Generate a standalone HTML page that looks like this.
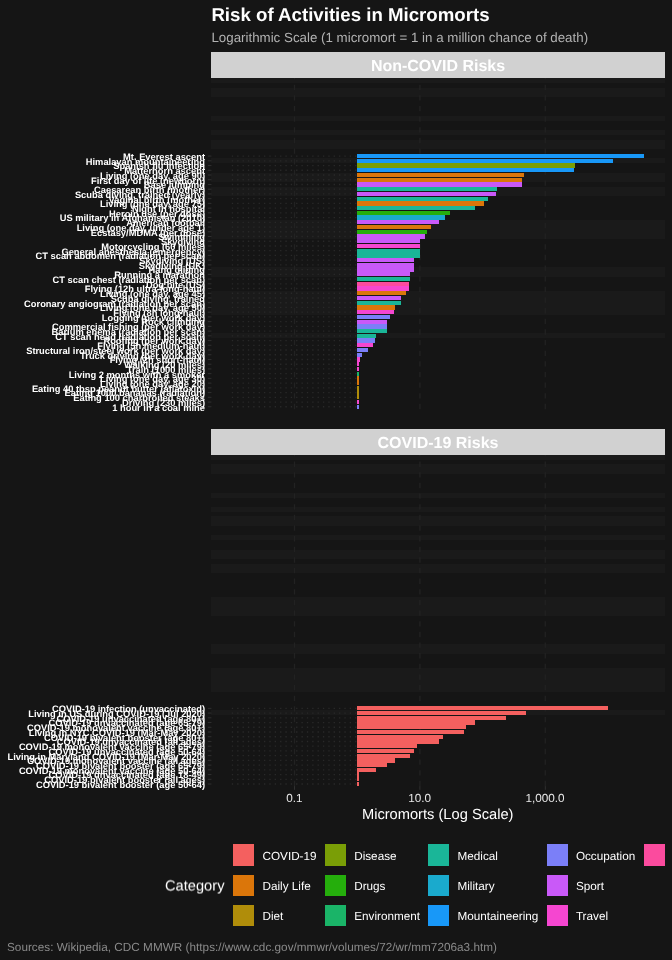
<!DOCTYPE html>
<html><head><meta charset="utf-8"><title>Risk of Activities in Micromorts</title>
<style>
html,body{margin:0;padding:0;background:#151515;}
body{width:672px;height:960px;position:relative;overflow:hidden;font-family:"Liberation Sans",sans-serif;}
.t{position:absolute;white-space:nowrap;text-rendering:geometricPrecision;}
svg{position:absolute;left:0;top:0;}
#txt{position:absolute;left:0;top:0;width:672px;height:960px;will-change:transform;}
</style></head><body>
<svg width="672" height="960" viewBox="0 0 672 960">
<rect x="211.25" y="78.05" width="453.55" height="4.730" fill="#1a1a1a" shape-rendering="crispEdges"/>
<rect x="211.25" y="87.51" width="453.55" height="4.730" fill="#1a1a1a" shape-rendering="crispEdges"/>
<rect x="211.25" y="92.24" width="453.55" height="4.730" fill="#1a1a1a" shape-rendering="crispEdges"/>
<rect x="211.25" y="115.89" width="453.55" height="4.730" fill="#1a1a1a" shape-rendering="crispEdges"/>
<rect x="211.25" y="130.08" width="453.55" height="4.730" fill="#1a1a1a" shape-rendering="crispEdges"/>
<rect x="211.25" y="139.54" width="453.55" height="4.730" fill="#1a1a1a" shape-rendering="crispEdges"/>
<rect x="211.25" y="144.27" width="453.55" height="4.730" fill="#1a1a1a" shape-rendering="crispEdges"/>
<rect x="211.25" y="158.46" width="453.55" height="4.730" fill="#1a1a1a" shape-rendering="crispEdges"/>
<rect x="211.25" y="172.65" width="453.55" height="4.730" fill="#1a1a1a" shape-rendering="crispEdges"/>
<rect x="211.25" y="177.38" width="453.55" height="4.730" fill="#1a1a1a" shape-rendering="crispEdges"/>
<rect x="211.25" y="186.84" width="453.55" height="4.730" fill="#1a1a1a" shape-rendering="crispEdges"/>
<rect x="211.25" y="191.57" width="453.55" height="4.730" fill="#1a1a1a" shape-rendering="crispEdges"/>
<rect x="211.25" y="219.95" width="453.55" height="4.730" fill="#1a1a1a" shape-rendering="crispEdges"/>
<rect x="211.25" y="224.68" width="453.55" height="4.730" fill="#1a1a1a" shape-rendering="crispEdges"/>
<rect x="211.25" y="229.41" width="453.55" height="4.730" fill="#1a1a1a" shape-rendering="crispEdges"/>
<rect x="211.25" y="234.14" width="453.55" height="4.730" fill="#1a1a1a" shape-rendering="crispEdges"/>
<rect x="211.25" y="267.25" width="453.55" height="4.730" fill="#1a1a1a" shape-rendering="crispEdges"/>
<rect x="211.25" y="271.98" width="453.55" height="4.730" fill="#1a1a1a" shape-rendering="crispEdges"/>
<rect x="211.25" y="290.90" width="453.55" height="4.730" fill="#1a1a1a" shape-rendering="crispEdges"/>
<rect x="211.25" y="295.63" width="453.55" height="4.730" fill="#1a1a1a" shape-rendering="crispEdges"/>
<rect x="211.25" y="300.36" width="453.55" height="4.730" fill="#1a1a1a" shape-rendering="crispEdges"/>
<rect x="211.25" y="305.09" width="453.55" height="4.730" fill="#1a1a1a" shape-rendering="crispEdges"/>
<rect x="211.25" y="309.82" width="453.55" height="4.730" fill="#1a1a1a" shape-rendering="crispEdges"/>
<rect x="211.25" y="333.47" width="453.55" height="4.730" fill="#1a1a1a" shape-rendering="crispEdges"/>
<line x1="294.50" x2="294.50" y1="409.15" y2="78.05" stroke="#222222" stroke-width="1.33" stroke-dasharray="5.32 5.32"/>
<line x1="419.90" x2="419.90" y1="409.15" y2="78.05" stroke="#222222" stroke-width="1.33" stroke-dasharray="5.32 5.32"/>
<line x1="545.30" x2="545.30" y1="409.15" y2="78.05" stroke="#222222" stroke-width="1.33" stroke-dasharray="5.32 5.32"/>
<line x1="207.85" x2="211.45" y1="156.09" y2="156.09" stroke="#303030" stroke-width="1"/>
<line x1="231.80" x2="357.20" y1="156.09" y2="156.09" stroke="#292929" stroke-width="1.33" stroke-dasharray="1.34 4.02"/>
<rect x="357.20" y="153.96" width="287.10" height="4.26" fill="#1898F8" shape-rendering="crispEdges"/>
<line x1="207.85" x2="211.45" y1="160.82" y2="160.82" stroke="#303030" stroke-width="1"/>
<line x1="231.80" x2="357.20" y1="160.82" y2="160.82" stroke="#292929" stroke-width="1.33" stroke-dasharray="1.34 4.02"/>
<rect x="357.20" y="158.69" width="255.76" height="4.26" fill="#1898F8" shape-rendering="crispEdges"/>
<line x1="207.85" x2="211.45" y1="165.55" y2="165.55" stroke="#303030" stroke-width="1"/>
<line x1="231.80" x2="357.20" y1="165.55" y2="165.55" stroke="#292929" stroke-width="1.33" stroke-dasharray="1.34 4.02"/>
<rect x="357.20" y="163.42" width="218.02" height="4.26" fill="#7A9E06" shape-rendering="crispEdges"/>
<line x1="207.85" x2="211.45" y1="170.28" y2="170.28" stroke="#303030" stroke-width="1"/>
<line x1="231.80" x2="357.20" y1="170.28" y2="170.28" stroke="#292929" stroke-width="1.33" stroke-dasharray="1.34 4.02"/>
<rect x="357.20" y="168.15" width="216.52" height="4.26" fill="#1898F8" shape-rendering="crispEdges"/>
<line x1="207.85" x2="211.45" y1="175.01" y2="175.01" stroke="#303030" stroke-width="1"/>
<line x1="231.80" x2="357.20" y1="175.01" y2="175.01" stroke="#292929" stroke-width="1.33" stroke-dasharray="1.34 4.02"/>
<rect x="357.20" y="172.88" width="167.13" height="4.26" fill="#DB760A" shape-rendering="crispEdges"/>
<line x1="207.85" x2="211.45" y1="179.74" y2="179.74" stroke="#303030" stroke-width="1"/>
<line x1="231.80" x2="357.20" y1="179.74" y2="179.74" stroke="#292929" stroke-width="1.33" stroke-dasharray="1.34 4.02"/>
<rect x="357.20" y="177.61" width="165.12" height="4.26" fill="#DB760A" shape-rendering="crispEdges"/>
<line x1="207.85" x2="211.45" y1="184.47" y2="184.47" stroke="#303030" stroke-width="1"/>
<line x1="231.80" x2="357.20" y1="184.47" y2="184.47" stroke="#292929" stroke-width="1.33" stroke-dasharray="1.34 4.02"/>
<rect x="357.20" y="182.34" width="165.12" height="4.26" fill="#C959F8" shape-rendering="crispEdges"/>
<line x1="207.85" x2="211.45" y1="189.20" y2="189.20" stroke="#303030" stroke-width="1"/>
<line x1="231.80" x2="357.20" y1="189.20" y2="189.20" stroke="#292929" stroke-width="1.33" stroke-dasharray="1.34 4.02"/>
<rect x="357.20" y="187.07" width="139.85" height="4.26" fill="#1AB698" shape-rendering="crispEdges"/>
<line x1="207.85" x2="211.45" y1="193.93" y2="193.93" stroke="#303030" stroke-width="1"/>
<line x1="231.80" x2="357.20" y1="193.93" y2="193.93" stroke="#292929" stroke-width="1.33" stroke-dasharray="1.34 4.02"/>
<rect x="357.20" y="191.80" width="138.87" height="4.26" fill="#C959F8" shape-rendering="crispEdges"/>
<line x1="207.85" x2="211.45" y1="198.66" y2="198.66" stroke="#303030" stroke-width="1"/>
<line x1="231.80" x2="357.20" y1="198.66" y2="198.66" stroke="#292929" stroke-width="1.33" stroke-dasharray="1.34 4.02"/>
<rect x="357.20" y="196.53" width="130.36" height="4.26" fill="#1AB698" shape-rendering="crispEdges"/>
<line x1="207.85" x2="211.45" y1="203.39" y2="203.39" stroke="#303030" stroke-width="1"/>
<line x1="231.80" x2="357.20" y1="203.39" y2="203.39" stroke="#292929" stroke-width="1.33" stroke-dasharray="1.34 4.02"/>
<rect x="357.20" y="201.26" width="126.73" height="4.26" fill="#DB760A" shape-rendering="crispEdges"/>
<line x1="207.85" x2="211.45" y1="208.12" y2="208.12" stroke="#303030" stroke-width="1"/>
<line x1="231.80" x2="357.20" y1="208.12" y2="208.12" stroke="#292929" stroke-width="1.33" stroke-dasharray="1.34 4.02"/>
<rect x="357.20" y="205.99" width="117.57" height="4.26" fill="#1AB698" shape-rendering="crispEdges"/>
<line x1="207.85" x2="211.45" y1="212.85" y2="212.85" stroke="#303030" stroke-width="1"/>
<line x1="231.80" x2="357.20" y1="212.85" y2="212.85" stroke="#292929" stroke-width="1.33" stroke-dasharray="1.34 4.02"/>
<rect x="357.20" y="210.72" width="92.62" height="4.26" fill="#25AE0C" shape-rendering="crispEdges"/>
<line x1="207.85" x2="211.45" y1="217.58" y2="217.58" stroke="#303030" stroke-width="1"/>
<line x1="231.80" x2="357.20" y1="217.58" y2="217.58" stroke="#292929" stroke-width="1.33" stroke-dasharray="1.34 4.02"/>
<rect x="357.20" y="215.45" width="87.65" height="4.26" fill="#1AAACD" shape-rendering="crispEdges"/>
<line x1="207.85" x2="211.45" y1="222.31" y2="222.31" stroke="#303030" stroke-width="1"/>
<line x1="231.80" x2="357.20" y1="222.31" y2="222.31" stroke="#292929" stroke-width="1.33" stroke-dasharray="1.34 4.02"/>
<rect x="357.20" y="220.18" width="81.57" height="4.26" fill="#C959F8" shape-rendering="crispEdges"/>
<line x1="207.85" x2="211.45" y1="227.04" y2="227.04" stroke="#303030" stroke-width="1"/>
<line x1="231.80" x2="357.20" y1="227.04" y2="227.04" stroke="#292929" stroke-width="1.33" stroke-dasharray="1.34 4.02"/>
<rect x="357.20" y="224.91" width="73.74" height="4.26" fill="#DB760A" shape-rendering="crispEdges"/>
<line x1="207.85" x2="211.45" y1="231.77" y2="231.77" stroke="#303030" stroke-width="1"/>
<line x1="231.80" x2="357.20" y1="231.77" y2="231.77" stroke="#292929" stroke-width="1.33" stroke-dasharray="1.34 4.02"/>
<rect x="357.20" y="229.64" width="69.84" height="4.26" fill="#25AE0C" shape-rendering="crispEdges"/>
<line x1="207.85" x2="211.45" y1="236.50" y2="236.50" stroke="#303030" stroke-width="1"/>
<line x1="231.80" x2="357.20" y1="236.50" y2="236.50" stroke="#292929" stroke-width="1.33" stroke-dasharray="1.34 4.02"/>
<rect x="357.20" y="234.37" width="67.66" height="4.26" fill="#C959F8" shape-rendering="crispEdges"/>
<line x1="207.85" x2="211.45" y1="241.23" y2="241.23" stroke="#303030" stroke-width="1"/>
<line x1="231.80" x2="357.20" y1="241.23" y2="241.23" stroke="#292929" stroke-width="1.33" stroke-dasharray="1.34 4.02"/>
<rect x="357.20" y="239.10" width="62.70" height="4.26" fill="#C959F8" shape-rendering="crispEdges"/>
<line x1="207.85" x2="211.45" y1="245.96" y2="245.96" stroke="#303030" stroke-width="1"/>
<line x1="231.80" x2="357.20" y1="245.96" y2="245.96" stroke="#292929" stroke-width="1.33" stroke-dasharray="1.34 4.02"/>
<rect x="357.20" y="243.83" width="62.70" height="4.26" fill="#F546D0" shape-rendering="crispEdges"/>
<line x1="207.85" x2="211.45" y1="250.69" y2="250.69" stroke="#303030" stroke-width="1"/>
<line x1="231.80" x2="357.20" y1="250.69" y2="250.69" stroke="#292929" stroke-width="1.33" stroke-dasharray="1.34 4.02"/>
<rect x="357.20" y="248.56" width="62.70" height="4.26" fill="#1AB698" shape-rendering="crispEdges"/>
<line x1="207.85" x2="211.45" y1="255.42" y2="255.42" stroke="#303030" stroke-width="1"/>
<line x1="231.80" x2="357.20" y1="255.42" y2="255.42" stroke="#292929" stroke-width="1.33" stroke-dasharray="1.34 4.02"/>
<rect x="357.20" y="253.29" width="62.70" height="4.26" fill="#1AB698" shape-rendering="crispEdges"/>
<line x1="207.85" x2="211.45" y1="260.15" y2="260.15" stroke="#303030" stroke-width="1"/>
<line x1="231.80" x2="357.20" y1="260.15" y2="260.15" stroke="#292929" stroke-width="1.33" stroke-dasharray="1.34 4.02"/>
<rect x="357.20" y="258.02" width="56.62" height="4.26" fill="#C959F8" shape-rendering="crispEdges"/>
<line x1="207.85" x2="211.45" y1="264.88" y2="264.88" stroke="#303030" stroke-width="1"/>
<line x1="231.80" x2="357.20" y1="264.88" y2="264.88" stroke="#292929" stroke-width="1.33" stroke-dasharray="1.34 4.02"/>
<rect x="357.20" y="262.75" width="56.62" height="4.26" fill="#C959F8" shape-rendering="crispEdges"/>
<line x1="207.85" x2="211.45" y1="269.61" y2="269.61" stroke="#303030" stroke-width="1"/>
<line x1="231.80" x2="357.20" y1="269.61" y2="269.61" stroke="#292929" stroke-width="1.33" stroke-dasharray="1.34 4.02"/>
<rect x="357.20" y="267.48" width="56.62" height="4.26" fill="#C959F8" shape-rendering="crispEdges"/>
<line x1="207.85" x2="211.45" y1="274.34" y2="274.34" stroke="#303030" stroke-width="1"/>
<line x1="231.80" x2="357.20" y1="274.34" y2="274.34" stroke="#292929" stroke-width="1.33" stroke-dasharray="1.34 4.02"/>
<rect x="357.20" y="272.21" width="52.99" height="4.26" fill="#C959F8" shape-rendering="crispEdges"/>
<line x1="207.85" x2="211.45" y1="279.07" y2="279.07" stroke="#303030" stroke-width="1"/>
<line x1="231.80" x2="357.20" y1="279.07" y2="279.07" stroke="#292929" stroke-width="1.33" stroke-dasharray="1.34 4.02"/>
<rect x="357.20" y="276.94" width="52.99" height="4.26" fill="#1AB698" shape-rendering="crispEdges"/>
<line x1="207.85" x2="211.45" y1="283.80" y2="283.80" stroke="#303030" stroke-width="1"/>
<line x1="231.80" x2="357.20" y1="283.80" y2="283.80" stroke="#292929" stroke-width="1.33" stroke-dasharray="1.34 4.02"/>
<rect x="357.20" y="281.67" width="51.79" height="4.26" fill="#FB4B9E" shape-rendering="crispEdges"/>
<line x1="207.85" x2="211.45" y1="288.53" y2="288.53" stroke="#303030" stroke-width="1"/>
<line x1="231.80" x2="357.20" y1="288.53" y2="288.53" stroke="#292929" stroke-width="1.33" stroke-dasharray="1.34 4.02"/>
<rect x="357.20" y="286.40" width="51.79" height="4.26" fill="#F546D0" shape-rendering="crispEdges"/>
<line x1="207.85" x2="211.45" y1="293.26" y2="293.26" stroke="#303030" stroke-width="1"/>
<line x1="231.80" x2="357.20" y1="293.26" y2="293.26" stroke="#292929" stroke-width="1.33" stroke-dasharray="1.34 4.02"/>
<rect x="357.20" y="291.13" width="48.79" height="4.26" fill="#DB760A" shape-rendering="crispEdges"/>
<line x1="207.85" x2="211.45" y1="297.99" y2="297.99" stroke="#303030" stroke-width="1"/>
<line x1="231.80" x2="357.20" y1="297.99" y2="297.99" stroke="#292929" stroke-width="1.33" stroke-dasharray="1.34 4.02"/>
<rect x="357.20" y="295.86" width="43.83" height="4.26" fill="#C959F8" shape-rendering="crispEdges"/>
<line x1="207.85" x2="211.45" y1="302.72" y2="302.72" stroke="#303030" stroke-width="1"/>
<line x1="231.80" x2="357.20" y1="302.72" y2="302.72" stroke="#292929" stroke-width="1.33" stroke-dasharray="1.34 4.02"/>
<rect x="357.20" y="300.59" width="43.83" height="4.26" fill="#1AB698" shape-rendering="crispEdges"/>
<line x1="207.85" x2="211.45" y1="307.45" y2="307.45" stroke="#303030" stroke-width="1"/>
<line x1="231.80" x2="357.20" y1="307.45" y2="307.45" stroke="#292929" stroke-width="1.33" stroke-dasharray="1.34 4.02"/>
<rect x="357.20" y="305.32" width="37.75" height="4.26" fill="#DB760A" shape-rendering="crispEdges"/>
<line x1="207.85" x2="211.45" y1="312.18" y2="312.18" stroke="#303030" stroke-width="1"/>
<line x1="231.80" x2="357.20" y1="312.18" y2="312.18" stroke="#292929" stroke-width="1.33" stroke-dasharray="1.34 4.02"/>
<rect x="357.20" y="310.05" width="36.35" height="4.26" fill="#F546D0" shape-rendering="crispEdges"/>
<line x1="207.85" x2="211.45" y1="316.91" y2="316.91" stroke="#303030" stroke-width="1"/>
<line x1="231.80" x2="357.20" y1="316.91" y2="316.91" stroke="#292929" stroke-width="1.33" stroke-dasharray="1.34 4.02"/>
<rect x="357.20" y="314.78" width="32.92" height="4.26" fill="#7B7FF8" shape-rendering="crispEdges"/>
<line x1="207.85" x2="211.45" y1="321.64" y2="321.64" stroke="#303030" stroke-width="1"/>
<line x1="231.80" x2="357.20" y1="321.64" y2="321.64" stroke="#292929" stroke-width="1.33" stroke-dasharray="1.34 4.02"/>
<rect x="357.20" y="319.51" width="29.92" height="4.26" fill="#C959F8" shape-rendering="crispEdges"/>
<line x1="207.85" x2="211.45" y1="326.37" y2="326.37" stroke="#303030" stroke-width="1"/>
<line x1="231.80" x2="357.20" y1="326.37" y2="326.37" stroke="#292929" stroke-width="1.33" stroke-dasharray="1.34 4.02"/>
<rect x="357.20" y="324.24" width="29.92" height="4.26" fill="#7B7FF8" shape-rendering="crispEdges"/>
<line x1="207.85" x2="211.45" y1="331.10" y2="331.10" stroke="#303030" stroke-width="1"/>
<line x1="231.80" x2="357.20" y1="331.10" y2="331.10" stroke="#292929" stroke-width="1.33" stroke-dasharray="1.34 4.02"/>
<rect x="357.20" y="328.97" width="29.92" height="4.26" fill="#1AB698" shape-rendering="crispEdges"/>
<line x1="207.85" x2="211.45" y1="335.83" y2="335.83" stroke="#303030" stroke-width="1"/>
<line x1="231.80" x2="357.20" y1="335.83" y2="335.83" stroke="#292929" stroke-width="1.33" stroke-dasharray="1.34 4.02"/>
<rect x="357.20" y="333.70" width="18.87" height="4.26" fill="#1AB698" shape-rendering="crispEdges"/>
<line x1="207.85" x2="211.45" y1="340.56" y2="340.56" stroke="#303030" stroke-width="1"/>
<line x1="231.80" x2="357.20" y1="340.56" y2="340.56" stroke="#292929" stroke-width="1.33" stroke-dasharray="1.34 4.02"/>
<rect x="357.20" y="338.43" width="17.90" height="4.26" fill="#7B7FF8" shape-rendering="crispEdges"/>
<line x1="207.85" x2="211.45" y1="345.29" y2="345.29" stroke="#303030" stroke-width="1"/>
<line x1="231.80" x2="357.20" y1="345.29" y2="345.29" stroke="#292929" stroke-width="1.33" stroke-dasharray="1.34 4.02"/>
<rect x="357.20" y="343.16" width="16.01" height="4.26" fill="#F546D0" shape-rendering="crispEdges"/>
<line x1="207.85" x2="211.45" y1="350.02" y2="350.02" stroke="#303030" stroke-width="1"/>
<line x1="231.80" x2="357.20" y1="350.02" y2="350.02" stroke="#292929" stroke-width="1.33" stroke-dasharray="1.34 4.02"/>
<rect x="357.20" y="347.89" width="11.04" height="4.26" fill="#7B7FF8" shape-rendering="crispEdges"/>
<line x1="207.85" x2="211.45" y1="354.75" y2="354.75" stroke="#303030" stroke-width="1"/>
<line x1="231.80" x2="357.20" y1="354.75" y2="354.75" stroke="#292929" stroke-width="1.33" stroke-dasharray="1.34 4.02"/>
<rect x="357.20" y="352.62" width="4.96" height="4.26" fill="#7B7FF8" shape-rendering="crispEdges"/>
<line x1="207.85" x2="211.45" y1="359.48" y2="359.48" stroke="#303030" stroke-width="1"/>
<line x1="231.80" x2="357.20" y1="359.48" y2="359.48" stroke="#292929" stroke-width="1.33" stroke-dasharray="1.34 4.02"/>
<rect x="357.20" y="357.35" width="2.60" height="4.26" fill="#F546D0" shape-rendering="crispEdges"/>
<line x1="207.85" x2="211.45" y1="364.21" y2="364.21" stroke="#303030" stroke-width="1"/>
<line x1="231.80" x2="357.20" y1="364.21" y2="364.21" stroke="#292929" stroke-width="1.33" stroke-dasharray="1.34 4.02"/>
<rect x="357.20" y="362.08" width="2.00" height="4.26" fill="#F546D0" shape-rendering="crispEdges"/>
<line x1="207.85" x2="211.45" y1="368.94" y2="368.94" stroke="#303030" stroke-width="1"/>
<line x1="231.80" x2="357.20" y1="368.94" y2="368.94" stroke="#292929" stroke-width="1.33" stroke-dasharray="1.34 4.02"/>
<rect x="357.20" y="366.81" width="2.00" height="4.26" fill="#F546D0" shape-rendering="crispEdges"/>
<line x1="207.85" x2="211.45" y1="373.67" y2="373.67" stroke="#303030" stroke-width="1"/>
<line x1="231.80" x2="357.20" y1="373.67" y2="373.67" stroke="#292929" stroke-width="1.33" stroke-dasharray="1.34 4.02"/>
<rect x="357.20" y="371.54" width="2.00" height="4.26" fill="#1AB468" shape-rendering="crispEdges"/>
<line x1="207.85" x2="211.45" y1="378.40" y2="378.40" stroke="#303030" stroke-width="1"/>
<line x1="231.80" x2="357.20" y1="378.40" y2="378.40" stroke="#292929" stroke-width="1.33" stroke-dasharray="1.34 4.02"/>
<rect x="357.20" y="376.27" width="2.00" height="4.26" fill="#DB760A" shape-rendering="crispEdges"/>
<line x1="207.85" x2="211.45" y1="383.13" y2="383.13" stroke="#303030" stroke-width="1"/>
<line x1="231.80" x2="357.20" y1="383.13" y2="383.13" stroke="#292929" stroke-width="1.33" stroke-dasharray="1.34 4.02"/>
<rect x="357.20" y="381.00" width="2.00" height="4.26" fill="#DB760A" shape-rendering="crispEdges"/>
<line x1="207.85" x2="211.45" y1="387.86" y2="387.86" stroke="#303030" stroke-width="1"/>
<line x1="231.80" x2="357.20" y1="387.86" y2="387.86" stroke="#292929" stroke-width="1.33" stroke-dasharray="1.34 4.02"/>
<rect x="357.20" y="385.73" width="2.00" height="4.26" fill="#B08D0A" shape-rendering="crispEdges"/>
<line x1="207.85" x2="211.45" y1="392.59" y2="392.59" stroke="#303030" stroke-width="1"/>
<line x1="231.80" x2="357.20" y1="392.59" y2="392.59" stroke="#292929" stroke-width="1.33" stroke-dasharray="1.34 4.02"/>
<rect x="357.20" y="390.46" width="2.00" height="4.26" fill="#B08D0A" shape-rendering="crispEdges"/>
<line x1="207.85" x2="211.45" y1="397.32" y2="397.32" stroke="#303030" stroke-width="1"/>
<line x1="231.80" x2="357.20" y1="397.32" y2="397.32" stroke="#292929" stroke-width="1.33" stroke-dasharray="1.34 4.02"/>
<rect x="357.20" y="395.19" width="2.00" height="4.26" fill="#B08D0A" shape-rendering="crispEdges"/>
<line x1="207.85" x2="211.45" y1="402.05" y2="402.05" stroke="#303030" stroke-width="1"/>
<line x1="231.80" x2="357.20" y1="402.05" y2="402.05" stroke="#292929" stroke-width="1.33" stroke-dasharray="1.34 4.02"/>
<rect x="357.20" y="399.92" width="2.00" height="4.26" fill="#F546D0" shape-rendering="crispEdges"/>
<line x1="207.85" x2="211.45" y1="406.78" y2="406.78" stroke="#303030" stroke-width="1"/>
<line x1="231.80" x2="357.20" y1="406.78" y2="406.78" stroke="#292929" stroke-width="1.33" stroke-dasharray="1.34 4.02"/>
<rect x="357.20" y="404.65" width="2.00" height="4.26" fill="#7B7FF8" shape-rendering="crispEdges"/>
<rect x="211.25" y="455.00" width="453.55" height="4.730" fill="#1a1a1a" shape-rendering="crispEdges"/>
<rect x="211.25" y="464.46" width="453.55" height="4.730" fill="#1a1a1a" shape-rendering="crispEdges"/>
<rect x="211.25" y="469.19" width="453.55" height="4.730" fill="#1a1a1a" shape-rendering="crispEdges"/>
<rect x="211.25" y="492.84" width="453.55" height="4.730" fill="#1a1a1a" shape-rendering="crispEdges"/>
<rect x="211.25" y="507.03" width="453.55" height="4.730" fill="#1a1a1a" shape-rendering="crispEdges"/>
<rect x="211.25" y="516.49" width="453.55" height="4.730" fill="#1a1a1a" shape-rendering="crispEdges"/>
<rect x="211.25" y="521.22" width="453.55" height="4.730" fill="#1a1a1a" shape-rendering="crispEdges"/>
<rect x="211.25" y="535.41" width="453.55" height="4.730" fill="#1a1a1a" shape-rendering="crispEdges"/>
<rect x="211.25" y="549.60" width="453.55" height="4.730" fill="#1a1a1a" shape-rendering="crispEdges"/>
<rect x="211.25" y="554.33" width="453.55" height="4.730" fill="#1a1a1a" shape-rendering="crispEdges"/>
<rect x="211.25" y="563.79" width="453.55" height="4.730" fill="#1a1a1a" shape-rendering="crispEdges"/>
<rect x="211.25" y="568.52" width="453.55" height="4.730" fill="#1a1a1a" shape-rendering="crispEdges"/>
<rect x="211.25" y="596.90" width="453.55" height="4.730" fill="#1a1a1a" shape-rendering="crispEdges"/>
<rect x="211.25" y="601.63" width="453.55" height="4.730" fill="#1a1a1a" shape-rendering="crispEdges"/>
<rect x="211.25" y="606.36" width="453.55" height="4.730" fill="#1a1a1a" shape-rendering="crispEdges"/>
<rect x="211.25" y="611.09" width="453.55" height="4.730" fill="#1a1a1a" shape-rendering="crispEdges"/>
<rect x="211.25" y="644.20" width="453.55" height="4.730" fill="#1a1a1a" shape-rendering="crispEdges"/>
<rect x="211.25" y="648.93" width="453.55" height="4.730" fill="#1a1a1a" shape-rendering="crispEdges"/>
<rect x="211.25" y="667.85" width="453.55" height="4.730" fill="#1a1a1a" shape-rendering="crispEdges"/>
<rect x="211.25" y="672.58" width="453.55" height="4.730" fill="#1a1a1a" shape-rendering="crispEdges"/>
<rect x="211.25" y="677.31" width="453.55" height="4.730" fill="#1a1a1a" shape-rendering="crispEdges"/>
<rect x="211.25" y="682.04" width="453.55" height="4.730" fill="#1a1a1a" shape-rendering="crispEdges"/>
<rect x="211.25" y="686.77" width="453.55" height="4.730" fill="#1a1a1a" shape-rendering="crispEdges"/>
<rect x="211.25" y="710.42" width="453.55" height="4.730" fill="#1a1a1a" shape-rendering="crispEdges"/>
<line x1="294.50" x2="294.50" y1="786.10" y2="455.00" stroke="#222222" stroke-width="1.33" stroke-dasharray="5.32 5.32"/>
<line x1="419.90" x2="419.90" y1="786.10" y2="455.00" stroke="#222222" stroke-width="1.33" stroke-dasharray="5.32 5.32"/>
<line x1="545.30" x2="545.30" y1="786.10" y2="455.00" stroke="#222222" stroke-width="1.33" stroke-dasharray="5.32 5.32"/>
<line x1="207.85" x2="211.45" y1="708.35" y2="708.35" stroke="#303030" stroke-width="1"/>
<line x1="231.80" x2="357.20" y1="708.35" y2="708.35" stroke="#292929" stroke-width="1.33" stroke-dasharray="1.34 4.02"/>
<rect x="357.20" y="706.23" width="250.80" height="4.26" fill="#F4605F" shape-rendering="crispEdges"/>
<line x1="207.85" x2="211.45" y1="713.08" y2="713.08" stroke="#303030" stroke-width="1"/>
<line x1="231.80" x2="357.20" y1="713.08" y2="713.08" stroke="#292929" stroke-width="1.33" stroke-dasharray="1.34 4.02"/>
<rect x="357.20" y="710.96" width="169.23" height="4.26" fill="#F4605F" shape-rendering="crispEdges"/>
<line x1="207.85" x2="211.45" y1="717.81" y2="717.81" stroke="#303030" stroke-width="1"/>
<line x1="231.80" x2="357.20" y1="717.81" y2="717.81" stroke="#292929" stroke-width="1.33" stroke-dasharray="1.34 4.02"/>
<rect x="357.20" y="715.69" width="149.24" height="4.26" fill="#F4605F" shape-rendering="crispEdges"/>
<line x1="207.85" x2="211.45" y1="722.54" y2="722.54" stroke="#303030" stroke-width="1"/>
<line x1="231.80" x2="357.20" y1="722.54" y2="722.54" stroke="#292929" stroke-width="1.33" stroke-dasharray="1.34 4.02"/>
<rect x="357.20" y="720.42" width="117.57" height="4.26" fill="#F4605F" shape-rendering="crispEdges"/>
<line x1="207.85" x2="211.45" y1="727.27" y2="727.27" stroke="#303030" stroke-width="1"/>
<line x1="231.80" x2="357.20" y1="727.27" y2="727.27" stroke="#292929" stroke-width="1.33" stroke-dasharray="1.34 4.02"/>
<rect x="357.20" y="725.15" width="108.62" height="4.26" fill="#F4605F" shape-rendering="crispEdges"/>
<line x1="207.85" x2="211.45" y1="732.00" y2="732.00" stroke="#303030" stroke-width="1"/>
<line x1="231.80" x2="357.20" y1="732.00" y2="732.00" stroke="#292929" stroke-width="1.33" stroke-dasharray="1.34 4.02"/>
<rect x="357.20" y="729.88" width="106.53" height="4.26" fill="#F4605F" shape-rendering="crispEdges"/>
<line x1="207.85" x2="211.45" y1="736.73" y2="736.73" stroke="#303030" stroke-width="1"/>
<line x1="231.80" x2="357.20" y1="736.73" y2="736.73" stroke="#292929" stroke-width="1.33" stroke-dasharray="1.34 4.02"/>
<rect x="357.20" y="734.61" width="85.38" height="4.26" fill="#F4605F" shape-rendering="crispEdges"/>
<line x1="207.85" x2="211.45" y1="741.46" y2="741.46" stroke="#303030" stroke-width="1"/>
<line x1="231.80" x2="357.20" y1="741.46" y2="741.46" stroke="#292929" stroke-width="1.33" stroke-dasharray="1.34 4.02"/>
<rect x="357.20" y="739.34" width="81.57" height="4.26" fill="#F4605F" shape-rendering="crispEdges"/>
<line x1="207.85" x2="211.45" y1="746.19" y2="746.19" stroke="#303030" stroke-width="1"/>
<line x1="231.80" x2="357.20" y1="746.19" y2="746.19" stroke="#292929" stroke-width="1.33" stroke-dasharray="1.34 4.02"/>
<rect x="357.20" y="744.07" width="59.83" height="4.26" fill="#F4605F" shape-rendering="crispEdges"/>
<line x1="207.85" x2="211.45" y1="750.92" y2="750.92" stroke="#303030" stroke-width="1"/>
<line x1="231.80" x2="357.20" y1="750.92" y2="750.92" stroke="#292929" stroke-width="1.33" stroke-dasharray="1.34 4.02"/>
<rect x="357.20" y="748.80" width="56.62" height="4.26" fill="#F4605F" shape-rendering="crispEdges"/>
<line x1="207.85" x2="211.45" y1="755.65" y2="755.65" stroke="#303030" stroke-width="1"/>
<line x1="231.80" x2="357.20" y1="755.65" y2="755.65" stroke="#292929" stroke-width="1.33" stroke-dasharray="1.34 4.02"/>
<rect x="357.20" y="753.53" width="52.99" height="4.26" fill="#F4605F" shape-rendering="crispEdges"/>
<line x1="207.85" x2="211.45" y1="760.38" y2="760.38" stroke="#303030" stroke-width="1"/>
<line x1="231.80" x2="357.20" y1="760.38" y2="760.38" stroke="#292929" stroke-width="1.33" stroke-dasharray="1.34 4.02"/>
<rect x="357.20" y="758.26" width="37.75" height="4.26" fill="#F4605F" shape-rendering="crispEdges"/>
<line x1="207.85" x2="211.45" y1="765.11" y2="765.11" stroke="#303030" stroke-width="1"/>
<line x1="231.80" x2="357.20" y1="765.11" y2="765.11" stroke="#292929" stroke-width="1.33" stroke-dasharray="1.34 4.02"/>
<rect x="357.20" y="762.99" width="29.92" height="4.26" fill="#F4605F" shape-rendering="crispEdges"/>
<line x1="207.85" x2="211.45" y1="769.84" y2="769.84" stroke="#303030" stroke-width="1"/>
<line x1="231.80" x2="357.20" y1="769.84" y2="769.84" stroke="#292929" stroke-width="1.33" stroke-dasharray="1.34 4.02"/>
<rect x="357.20" y="767.72" width="18.87" height="4.26" fill="#F4605F" shape-rendering="crispEdges"/>
<line x1="207.85" x2="211.45" y1="774.57" y2="774.57" stroke="#303030" stroke-width="1"/>
<line x1="231.80" x2="357.20" y1="774.57" y2="774.57" stroke="#292929" stroke-width="1.33" stroke-dasharray="1.34 4.02"/>
<rect x="357.20" y="772.45" width="2.00" height="4.26" fill="#F4605F" shape-rendering="crispEdges"/>
<line x1="207.85" x2="211.45" y1="779.30" y2="779.30" stroke="#303030" stroke-width="1"/>
<line x1="231.80" x2="357.20" y1="779.30" y2="779.30" stroke="#292929" stroke-width="1.33" stroke-dasharray="1.34 4.02"/>
<rect x="357.20" y="777.18" width="2.00" height="4.26" fill="#F4605F" shape-rendering="crispEdges"/>
<line x1="207.85" x2="211.45" y1="784.03" y2="784.03" stroke="#303030" stroke-width="1"/>
<line x1="231.80" x2="357.20" y1="784.03" y2="784.03" stroke="#292929" stroke-width="1.33" stroke-dasharray="1.34 4.02"/>
<rect x="357.20" y="781.91" width="2.00" height="4.26" fill="#F4605F" shape-rendering="crispEdges"/>
<line x1="294.50" x2="294.50" y1="786.10" y2="789.80" stroke="#303030" stroke-width="1"/>
<line x1="419.90" x2="419.90" y1="786.10" y2="789.80" stroke="#303030" stroke-width="1"/>
<line x1="545.30" x2="545.30" y1="786.10" y2="789.80" stroke="#303030" stroke-width="1"/>
</svg>
<div style="position:absolute;left:211.25px;top:51.9px;width:453.5px;height:25.9px;background:#D1D1D1"></div>
<div style="position:absolute;left:211.25px;top:428.9px;width:453.5px;height:25.9px;background:#D1D1D1"></div>
<div style="position:absolute;left:233px;top:844px;width:21px;height:22px;background:#F4605F"></div>
<div style="position:absolute;left:233px;top:875px;width:21px;height:21px;background:#DB760A"></div>
<div style="position:absolute;left:233px;top:905px;width:21px;height:21px;background:#B08D0A"></div>
<div style="position:absolute;left:325px;top:844px;width:21px;height:22px;background:#7A9E06"></div>
<div style="position:absolute;left:325px;top:875px;width:21px;height:21px;background:#25AE0C"></div>
<div style="position:absolute;left:325px;top:905px;width:21px;height:21px;background:#1AB468"></div>
<div style="position:absolute;left:428px;top:844px;width:21px;height:22px;background:#1AB698"></div>
<div style="position:absolute;left:428px;top:875px;width:21px;height:21px;background:#1AAACD"></div>
<div style="position:absolute;left:428px;top:905px;width:21px;height:21px;background:#1898F8"></div>
<div style="position:absolute;left:547px;top:844px;width:21px;height:22px;background:#7B7FF8"></div>
<div style="position:absolute;left:547px;top:875px;width:21px;height:21px;background:#C959F8"></div>
<div style="position:absolute;left:547px;top:905px;width:21px;height:21px;background:#F546D0"></div>
<div style="position:absolute;left:644px;top:844px;width:21px;height:22px;background:#FB4B9E"></div>
<div id="txt">
<div class="t" style="right:467.00px;top:153px;font-size:9.33px;line-height:9.33px;font-weight:bold;color:#fff">Mt. Everest ascent</div>
<div class="t" style="right:467.00px;top:158px;font-size:9.33px;line-height:9.33px;font-weight:bold;color:#fff">Himalayan mountaineering</div>
<div class="t" style="right:467.00px;top:162px;font-size:9.33px;line-height:9.33px;font-weight:bold;color:#fff">Spanish flu infection</div>
<div class="t" style="right:467.00px;top:167px;font-size:9.33px;line-height:9.33px;font-weight:bold;color:#fff">Matterhorn ascent</div>
<div class="t" style="right:467.00px;top:172px;font-size:9.33px;line-height:9.33px;font-weight:bold;color:#fff">Living (one day, age 90)</div>
<div class="t" style="right:467.00px;top:177px;font-size:9.33px;line-height:9.33px;font-weight:bold;color:#fff">First day of life (newborn)</div>
<div class="t" style="right:467.00px;top:181px;font-size:9.33px;line-height:9.33px;font-weight:bold;color:#fff">Base jumping</div>
<div class="t" style="right:467.00px;top:186px;font-size:9.33px;line-height:9.33px;font-weight:bold;color:#fff">Caesarean birth (mother)</div>
<div class="t" style="right:467.00px;top:191px;font-size:9.33px;line-height:9.33px;font-weight:bold;color:#fff">Scuba diving, trained (yearly)</div>
<div class="t" style="right:467.00px;top:196px;font-size:9.33px;line-height:9.33px;font-weight:bold;color:#fff">Vaginal birth (mother)</div>
<div class="t" style="right:467.00px;top:200px;font-size:9.33px;line-height:9.33px;font-weight:bold;color:#fff">Living (one day, age 75)</div>
<div class="t" style="right:467.00px;top:205px;font-size:9.33px;line-height:9.33px;font-weight:bold;color:#fff">Night in hospital</div>
<div class="t" style="right:467.00px;top:210px;font-size:9.33px;line-height:9.33px;font-weight:bold;color:#fff">Heroin use (per dose)</div>
<div class="t" style="right:467.00px;top:214px;font-size:9.33px;line-height:9.33px;font-weight:bold;color:#fff">US military in Afghanistan (2010)</div>
<div class="t" style="right:467.00px;top:219px;font-size:9.33px;line-height:9.33px;font-weight:bold;color:#fff">American football</div>
<div class="t" style="right:467.00px;top:224px;font-size:9.33px;line-height:9.33px;font-weight:bold;color:#fff">Living (one day, under age 1)</div>
<div class="t" style="right:467.00px;top:229px;font-size:9.33px;line-height:9.33px;font-weight:bold;color:#fff">Ecstasy/MDMA (per dose)</div>
<div class="t" style="right:467.00px;top:233px;font-size:9.33px;line-height:9.33px;font-weight:bold;color:#fff">Swimming</div>
<div class="t" style="right:467.00px;top:238px;font-size:9.33px;line-height:9.33px;font-weight:bold;color:#fff">Skydiving</div>
<div class="t" style="right:467.00px;top:243px;font-size:9.33px;line-height:9.33px;font-weight:bold;color:#fff">Motorcycling (60 miles)</div>
<div class="t" style="right:467.00px;top:248px;font-size:9.33px;line-height:9.33px;font-weight:bold;color:#fff">General anesthesia (emergency)</div>
<div class="t" style="right:467.00px;top:252px;font-size:9.33px;line-height:9.33px;font-weight:bold;color:#fff">CT scan abdomen (radiation per scan)</div>
<div class="t" style="right:467.00px;top:257px;font-size:9.33px;line-height:9.33px;font-weight:bold;color:#fff">Skydiving (US)</div>
<div class="t" style="right:467.00px;top:262px;font-size:9.33px;line-height:9.33px;font-weight:bold;color:#fff">Skydiving (UK)</div>
<div class="t" style="right:467.00px;top:266px;font-size:9.33px;line-height:9.33px;font-weight:bold;color:#fff">Hang gliding</div>
<div class="t" style="right:467.00px;top:271px;font-size:9.33px;line-height:9.33px;font-weight:bold;color:#fff">Running a marathon</div>
<div class="t" style="right:467.00px;top:276px;font-size:9.33px;line-height:9.33px;font-weight:bold;color:#fff">CT scan chest (radiation per scan)</div>
<div class="t" style="right:467.00px;top:281px;font-size:9.33px;line-height:9.33px;font-weight:bold;color:#fff">Dog bite (US)</div>
<div class="t" style="right:467.00px;top:285px;font-size:9.33px;line-height:9.33px;font-weight:bold;color:#fff">Flying (12h ultra-long-haul)</div>
<div class="t" style="right:467.00px;top:290px;font-size:9.33px;line-height:9.33px;font-weight:bold;color:#fff">Living (one day, age 45)</div>
<div class="t" style="right:467.00px;top:295px;font-size:9.33px;line-height:9.33px;font-weight:bold;color:#fff">Scuba diving, trained</div>
<div class="t" style="right:467.00px;top:300px;font-size:9.33px;line-height:9.33px;font-weight:bold;color:#fff">Coronary angiogram (radiation per scan)</div>
<div class="t" style="right:467.00px;top:304px;font-size:9.33px;line-height:9.33px;font-weight:bold;color:#fff">Living (one day, age 50)</div>
<div class="t" style="right:467.00px;top:309px;font-size:9.33px;line-height:9.33px;font-weight:bold;color:#fff">Flying (8h long-haul)</div>
<div class="t" style="right:467.00px;top:314px;font-size:9.33px;line-height:9.33px;font-weight:bold;color:#fff">Logging (per work day)</div>
<div class="t" style="right:467.00px;top:318px;font-size:9.33px;line-height:9.33px;font-weight:bold;color:#fff">Rock climbing</div>
<div class="t" style="right:467.00px;top:323px;font-size:9.33px;line-height:9.33px;font-weight:bold;color:#fff">Commercial fishing (per work day)</div>
<div class="t" style="right:467.00px;top:328px;font-size:9.33px;line-height:9.33px;font-weight:bold;color:#fff">Barium enema (radiation per scan)</div>
<div class="t" style="right:467.00px;top:333px;font-size:9.33px;line-height:9.33px;font-weight:bold;color:#fff">CT scan head (radiation per scan)</div>
<div class="t" style="right:467.00px;top:337px;font-size:9.33px;line-height:9.33px;font-weight:bold;color:#fff">Roofing (per work day)</div>
<div class="t" style="right:467.00px;top:342px;font-size:9.33px;line-height:9.33px;font-weight:bold;color:#fff">Flying (5h medium-haul)</div>
<div class="t" style="right:467.00px;top:347px;font-size:9.33px;line-height:9.33px;font-weight:bold;color:#fff">Structural iron/steel work (per work day)</div>
<div class="t" style="right:467.00px;top:352px;font-size:9.33px;line-height:9.33px;font-weight:bold;color:#fff">Truck driving (per work day)</div>
<div class="t" style="right:467.00px;top:356px;font-size:9.33px;line-height:9.33px;font-weight:bold;color:#fff">Flying (2h short-haul)</div>
<div class="t" style="right:467.00px;top:361px;font-size:9.33px;line-height:9.33px;font-weight:bold;color:#fff">Walking (20 miles)</div>
<div class="t" style="right:467.00px;top:366px;font-size:9.33px;line-height:9.33px;font-weight:bold;color:#fff">Train (1000 miles)</div>
<div class="t" style="right:467.00px;top:371px;font-size:9.33px;line-height:9.33px;font-weight:bold;color:#fff">Living 2 months with a smoker</div>
<div class="t" style="right:467.00px;top:375px;font-size:9.33px;line-height:9.33px;font-weight:bold;color:#fff">Living (one day, age 30)</div>
<div class="t" style="right:467.00px;top:380px;font-size:9.33px;line-height:9.33px;font-weight:bold;color:#fff">Living (one day, age 20)</div>
<div class="t" style="right:467.00px;top:385px;font-size:9.33px;line-height:9.33px;font-weight:bold;color:#fff">Eating 40 tbsp peanut butter (aflatoxin)</div>
<div class="t" style="right:467.00px;top:389px;font-size:9.33px;line-height:9.33px;font-weight:bold;color:#fff">Eating 1000 bananas (radiation)</div>
<div class="t" style="right:467.00px;top:394px;font-size:9.33px;line-height:9.33px;font-weight:bold;color:#fff">Eating 100 charbroiled steaks</div>
<div class="t" style="right:467.00px;top:399px;font-size:9.33px;line-height:9.33px;font-weight:bold;color:#fff">Driving (230 miles)</div>
<div class="t" style="right:467.00px;top:404px;font-size:9.33px;line-height:9.33px;font-weight:bold;color:#fff">1 hour in a coal mine</div>
<div class="t" style="right:467.00px;top:705px;font-size:9.33px;line-height:9.33px;font-weight:bold;color:#fff">COVID-19 infection (unvaccinated)</div>
<div class="t" style="right:467.00px;top:710px;font-size:9.33px;line-height:9.33px;font-weight:bold;color:#fff">Living in US during COVID-19 (Jul 2020)</div>
<div class="t" style="right:467.00px;top:715px;font-size:9.33px;line-height:9.33px;font-weight:bold;color:#fff">COVID-19 unvaccinated (age 80+)</div>
<div class="t" style="right:467.00px;top:719px;font-size:9.33px;line-height:9.33px;font-weight:bold;color:#fff">COVID-19 unvaccinated (age 65-79)</div>
<div class="t" style="right:467.00px;top:724px;font-size:9.33px;line-height:9.33px;font-weight:bold;color:#fff">COVID-19 monovalent vaccine (age 80+)</div>
<div class="t" style="right:467.00px;top:729px;font-size:9.33px;line-height:9.33px;font-weight:bold;color:#fff">Living in NYC COVID-19 (Mar-May 2020)</div>
<div class="t" style="right:467.00px;top:734px;font-size:9.33px;line-height:9.33px;font-weight:bold;color:#fff">COVID-19 bivalent booster (age 80+)</div>
<div class="t" style="right:467.00px;top:738px;font-size:9.33px;line-height:9.33px;font-weight:bold;color:#fff">COVID-19 unvaccinated (all ages)</div>
<div class="t" style="right:467.00px;top:743px;font-size:9.33px;line-height:9.33px;font-weight:bold;color:#fff">COVID-19 monovalent vaccine (age 65-79)</div>
<div class="t" style="right:467.00px;top:748px;font-size:9.33px;line-height:9.33px;font-weight:bold;color:#fff">COVID-19 unvaccinated (age 50-64)</div>
<div class="t" style="right:467.00px;top:753px;font-size:9.33px;line-height:9.33px;font-weight:bold;color:#fff">Living in Maryland COVID-19 (Mar-May 2020)</div>
<div class="t" style="right:467.00px;top:757px;font-size:9.33px;line-height:9.33px;font-weight:bold;color:#fff">COVID-19 monovalent vaccine (all ages)</div>
<div class="t" style="right:467.00px;top:762px;font-size:9.33px;line-height:9.33px;font-weight:bold;color:#fff">COVID-19 bivalent booster (age 65-79)</div>
<div class="t" style="right:467.00px;top:767px;font-size:9.33px;line-height:9.33px;font-weight:bold;color:#fff">COVID-19 monovalent vaccine (age 50-64)</div>
<div class="t" style="right:467.00px;top:771px;font-size:9.33px;line-height:9.33px;font-weight:bold;color:#fff">COVID-19 unvaccinated (age 18-49)</div>
<div class="t" style="right:467.00px;top:776px;font-size:9.33px;line-height:9.33px;font-weight:bold;color:#fff">COVID-19 bivalent booster (all ages)</div>
<div class="t" style="right:467.00px;top:781px;font-size:9.33px;line-height:9.33px;font-weight:bold;color:#fff">COVID-19 bivalent booster (age 50-64)</div>
<div class="t" style="left:138.00px;width:600px;text-align:center;top:59px;font-size:16px;line-height:16px;font-weight:bold;color:#fff">Non-COVID Risks</div>
<div class="t" style="left:138.00px;width:600px;text-align:center;top:436px;font-size:16px;line-height:16px;font-weight:bold;color:#fff">COVID-19 Risks</div>
<div class="t" style="left:211.40px;top:6px;font-size:18.67px;line-height:18.67px;font-weight:bold;color:#fff">Risk of Activities in Micromorts</div>
<div class="t" style="left:211.40px;top:31px;font-size:13.33px;line-height:13.33px;font-weight:normal;color:#b2b2b2">Logarithmic Scale (1 micromort = 1 in a million chance of death)</div>
<div class="t" style="left:-5.70px;width:600px;text-align:center;top:793px;font-size:11.73px;line-height:11.73px;font-weight:normal;color:#e6e6e6">0.1</div>
<div class="t" style="left:119.70px;width:600px;text-align:center;top:793px;font-size:11.73px;line-height:11.73px;font-weight:normal;color:#e6e6e6">10.0</div>
<div class="t" style="left:245.10px;width:600px;text-align:center;top:793px;font-size:11.73px;line-height:11.73px;font-weight:normal;color:#e6e6e6">1,000.0</div>
<div class="t" style="left:137.70px;width:600px;text-align:center;top:808px;font-size:14.67px;line-height:14.67px;font-weight:normal;color:#fff">Micromorts (Log Scale)</div>
<div class="t" style="will-change:transform;transform:translateY(0.5px) rotate(0.001deg);left:165.00px;top:879px;font-size:14.67px;line-height:14.67px;font-weight:normal;color:#fff">Category</div>
<div class="t" style="left:262.50px;top:851px;font-size:11.73px;line-height:11.73px;font-weight:normal;color:#fff">COVID-19</div>
<div class="t" style="left:262.50px;top:881px;font-size:11.73px;line-height:11.73px;font-weight:normal;color:#fff">Daily Life</div>
<div class="t" style="left:262.50px;top:911px;font-size:11.73px;line-height:11.73px;font-weight:normal;color:#fff">Diet</div>
<div class="t" style="left:354.20px;top:851px;font-size:11.73px;line-height:11.73px;font-weight:normal;color:#fff">Disease</div>
<div class="t" style="left:354.20px;top:881px;font-size:11.73px;line-height:11.73px;font-weight:normal;color:#fff">Drugs</div>
<div class="t" style="left:354.20px;top:911px;font-size:11.73px;line-height:11.73px;font-weight:normal;color:#fff">Environment</div>
<div class="t" style="left:457.50px;top:851px;font-size:11.73px;line-height:11.73px;font-weight:normal;color:#fff">Medical</div>
<div class="t" style="left:457.50px;top:881px;font-size:11.73px;line-height:11.73px;font-weight:normal;color:#fff">Military</div>
<div class="t" style="left:457.50px;top:911px;font-size:11.73px;line-height:11.73px;font-weight:normal;color:#fff">Mountaineering</div>
<div class="t" style="left:575.90px;top:851px;font-size:11.73px;line-height:11.73px;font-weight:normal;color:#fff">Occupation</div>
<div class="t" style="left:575.90px;top:881px;font-size:11.73px;line-height:11.73px;font-weight:normal;color:#fff">Sport</div>
<div class="t" style="left:575.90px;top:911px;font-size:11.73px;line-height:11.73px;font-weight:normal;color:#fff">Travel</div>
<div class="t" style="letter-spacing:0.027px;left:7.00px;top:942px;font-size:11.73px;line-height:11.73px;font-weight:normal;color:#8a8a8a">Sources: Wikipedia, CDC MMWR (https://www.cdc.gov/mmwr/volumes/72/wr/mm7206a3.htm)</div>
</div>
</body></html>
